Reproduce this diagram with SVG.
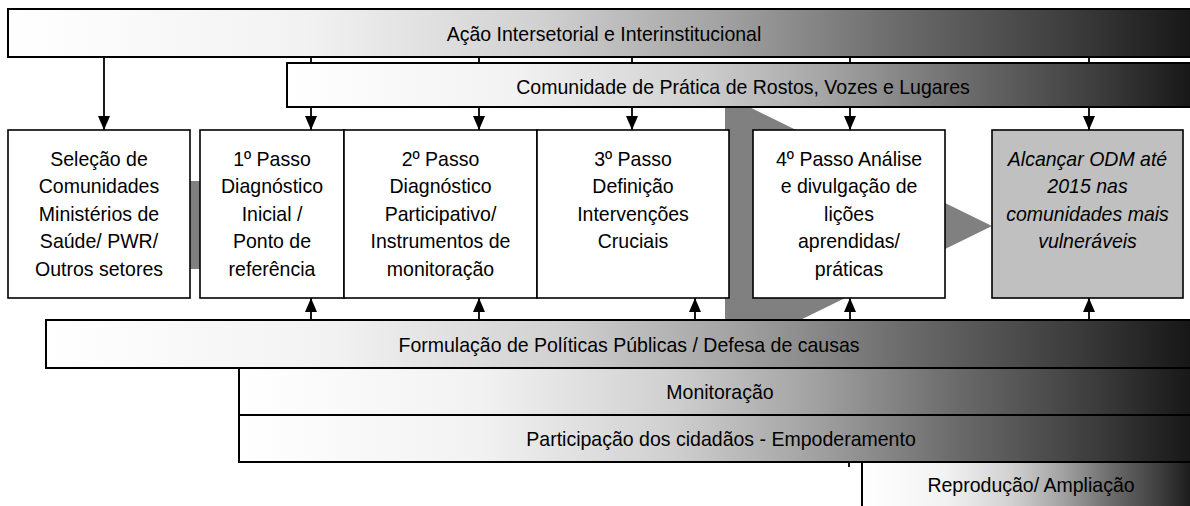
<svg xmlns="http://www.w3.org/2000/svg" width="1190" height="506" viewBox="0 0 1190 506">
<defs>
<linearGradient id="g" x1="0" y1="0" x2="1" y2="0">
<stop offset="0" stop-color="#ffffff"/>
<stop offset="0.25" stop-color="#f2f2f2"/>
<stop offset="0.45" stop-color="#d0d0d0"/>
<stop offset="0.6" stop-color="#a2a2a2"/>
<stop offset="0.75" stop-color="#6a6a6a"/>
<stop offset="0.9" stop-color="#3a3a3a"/>
<stop offset="1" stop-color="#151515"/>
</linearGradient>
<marker id="ah" markerWidth="14" markerHeight="12" refX="14" refY="6" orient="auto" markerUnits="userSpaceOnUse">
<path d="M0,0 L14,6 L0,12 Z" fill="#000"/>
</marker>
</defs>
<style>
.bar{fill:url(#g);stroke:#000;stroke-width:2}
.box{fill:#fff;stroke:#000;stroke-width:1.6}
.goal{fill:#c0c0c0;stroke:#000;stroke-width:1.6}
.t{font-family:"Liberation Sans",Arial,sans-serif;font-size:21px;fill:#000;text-anchor:middle}
.it{font-style:italic}
.c{stroke:#000;stroke-width:1.8;fill:none}
.ca{stroke:#000;stroke-width:1.8;fill:none;marker-end:url(#ah)}
.gray{fill:#808080}
</style>

<g id="background">
<polygon class="gray" points="725,95 992,226 725,357"/>
<rect class="gray" x="190" y="181" width="10" height="88"/>
</g>

<g id="connectors">
<line class="ca" x1="104" y1="57" x2="104" y2="130"/>
<line class="ca" x1="311" y1="57" x2="311" y2="130"/>
<line class="ca" x1="479" y1="57" x2="479" y2="130"/>
<line class="ca" x1="632" y1="57" x2="632" y2="130"/>
<line class="ca" x1="850" y1="57" x2="850" y2="130"/>
<line class="ca" x1="1089" y1="57" x2="1089" y2="130"/>
<line class="ca" x1="311" y1="320" x2="311" y2="298"/>
<line class="ca" x1="479" y1="320" x2="479" y2="298"/>
<line class="ca" x1="695" y1="320" x2="695" y2="298"/>
<line class="ca" x1="850" y1="320" x2="850" y2="298"/>
<line class="ca" x1="1089" y1="320" x2="1089" y2="298"/>
<line class="c" x1="849" y1="368" x2="849" y2="467"/>
</g>

<g id="acao">
<rect class="bar" x="8" y="9" width="1190" height="48"/>
<text class="t" transform="translate(604,40.5) scale(0.93,1)">Ação Intersetorial e Interinstitucional</text>
</g>

<g id="comunidade">
<rect class="bar" x="287" y="63" width="910" height="44"/>
<text class="t" transform="translate(743,93.5) scale(0.93,1)">Comunidade de Prática de Rostos, Vozes e Lugares</text>
</g>

<g id="selecao">
<rect class="box" x="8" y="130" width="182" height="168"/>
<text class="t" transform="translate(99,165.5) scale(0.93,1)">Seleção de</text>
<text class="t" transform="translate(99,193) scale(0.93,1)">Comunidades</text>
<text class="t" transform="translate(99,220.5) scale(0.93,1)">Ministérios de</text>
<text class="t" transform="translate(99,248) scale(0.93,1)">Saúde/ PWR/</text>
<text class="t" transform="translate(99,275.5) scale(0.93,1)">Outros setores</text>
</g>

<g id="passo1">
<rect class="box" x="200" y="130" width="144" height="168"/>
<text class="t" transform="translate(272,165.5) scale(0.93,1)">1º Passo</text>
<text class="t" transform="translate(272,193) scale(0.93,1)">Diagnóstico</text>
<text class="t" transform="translate(272,220.5) scale(0.93,1)">Inicial /</text>
<text class="t" transform="translate(272,248) scale(0.93,1)">Ponto de</text>
<text class="t" transform="translate(272,275.5) scale(0.93,1)">referência</text>
</g>

<g id="passo2">
<rect class="box" x="344" y="130" width="193" height="168"/>
<text class="t" transform="translate(440.5,165.5) scale(0.93,1)">2º Passo</text>
<text class="t" transform="translate(440.5,193) scale(0.93,1)">Diagnóstico</text>
<text class="t" transform="translate(440.5,220.5) scale(0.93,1)">Participativo/</text>
<text class="t" transform="translate(440.5,248) scale(0.93,1)">Instrumentos de</text>
<text class="t" transform="translate(440.5,275.5) scale(0.93,1)">monitoração</text>
</g>

<g id="passo3">
<rect class="box" x="537" y="130" width="192" height="168"/>
<text class="t" transform="translate(633,165.5) scale(0.93,1)">3º Passo</text>
<text class="t" transform="translate(633,193) scale(0.93,1)">Definição</text>
<text class="t" transform="translate(633,220.5) scale(0.93,1)">Intervenções</text>
<text class="t" transform="translate(633,248) scale(0.93,1)">Cruciais</text>
</g>

<g id="passo4">
<rect class="box" x="753" y="130" width="192" height="168"/>
<text class="t" transform="translate(849,165.5) scale(0.93,1)">4º Passo Análise</text>
<text class="t" transform="translate(849,193) scale(0.93,1)">e divulgação de</text>
<text class="t" transform="translate(849,220.5) scale(0.93,1)">lições</text>
<text class="t" transform="translate(849,248) scale(0.93,1)">aprendidas/</text>
<text class="t" transform="translate(849,275.5) scale(0.93,1)">práticas</text>
</g>

<g id="objetivo">
<rect class="goal" x="992" y="130" width="191" height="168"/>
<text class="t it" transform="translate(1087.5,165.5) scale(0.93,1)">Alcançar ODM até</text>
<text class="t it" transform="translate(1087.5,193) scale(0.93,1)">2015 nas</text>
<text class="t it" transform="translate(1087.5,220.5) scale(0.93,1)">comunidades mais</text>
<text class="t it" transform="translate(1087.5,248) scale(0.93,1)">vulneráveis</text>
</g>

<g id="formulacao">
<rect class="bar" x="46" y="320" width="1150" height="48"/>
<text class="t" transform="translate(629,352) scale(0.93,1)">Formulação de Políticas Públicas / Defesa de causas</text>
</g>

<g id="monitoracao">
<rect class="bar" x="239" y="368" width="958" height="47"/>
<text class="t" transform="translate(720,398.5) scale(0.93,1)">Monitoração</text>
</g>

<g id="participacao">
<rect class="bar" x="239" y="415" width="958" height="47"/>
<text class="t" transform="translate(721,445.5) scale(0.93,1)">Participação dos cidadãos - Empoderamento</text>
</g>

<g id="reproducao">
<rect class="bar" x="862" y="462" width="335" height="50"/>
<text class="t" transform="translate(1031,492) scale(0.93,1)">Reprodução/ Ampliação</text>
</g>
</svg>
